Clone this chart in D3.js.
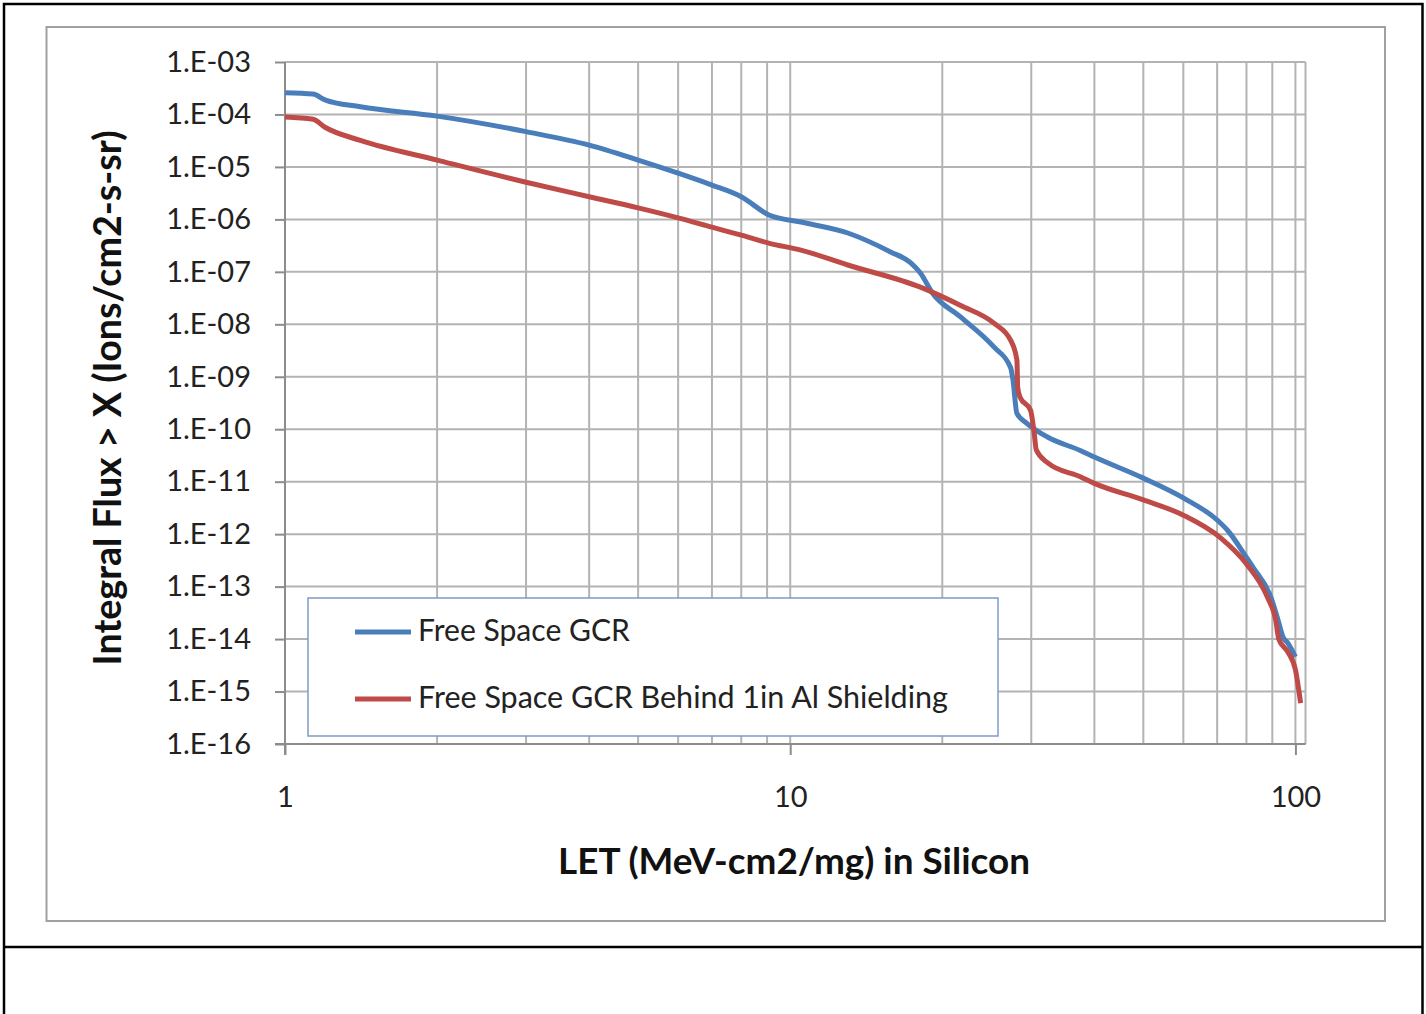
<!DOCTYPE html>
<html>
<head>
<meta charset="utf-8">
<script src="https://cdn.jsdelivr.net/npm/d3@7"></script>
<style>
  html, body { margin: 0; padding: 0; background: #fff; }
  svg { display: block; }
</style>
</head>
<body>
<svg id="chart" width="1426" height="1014"></svg>
<script>
// ---------------- DATA ----------------
const yTickValues = [1e-3, 1e-4, 1e-5, 1e-6, 1e-7, 1e-8, 1e-9, 1e-10, 1e-11, 1e-12, 1e-13, 1e-14, 1e-15, 1e-16];
const yTickLabels = ["1.E-03", "1.E-04", "1.E-05", "1.E-06", "1.E-07", "1.E-08", "1.E-09", "1.E-10", "1.E-11", "1.E-12", "1.E-13", "1.E-14", "1.E-15", "1.E-16"];
const xTickValues = [1, 10, 100];
const xTickLabels = ["1", "10", "100"];

const seriesNames = ["Free Space GCR", "Free Space GCR Behind 1in Al Shielding"];

const freeSpaceLET = [1.0, 1.136, 1.2, 1.41, 2.0, 3.0, 4.0, 5.0, 6.0, 7.0, 8.0, 9.1, 10.5, 13.0, 15.8, 17.3, 18.1, 19.1, 21.7, 25.3, 27.3, 27.6, 28.1, 29.4, 32.3, 37.6, 40, 50, 60, 70, 73.3, 80, 82.5, 89.4, 92.4, 94.5, 96.7, 100];
const freeSpaceFlux = [2.6e-4, 2.45e-4, 1.9e-4, 1.4e-4, 9.3e-5, 4.7e-5, 2.6e-5, 1.35e-5, 7.6e-6, 4.5e-6, 2.7e-6, 1.2e-6, 8.9e-7, 5.5e-7, 2.4e-7, 1.5e-7, 9.5e-8, 4.0e-8, 1.4e-8, 3.7e-9, 1.5e-9, 8.7e-10, 2.0e-10, 1.3e-10, 7.1e-11, 3.9e-11, 2.95e-11, 1.17e-11, 4.9e-12, 1.86e-12, 1.2e-12, 3.6e-13, 2.3e-13, 6.3e-14, 2.3e-14, 1.1e-14, 8.3e-15, 4.6e-15];

const shieldedLET = [1.0, 1.136, 1.2, 1.41, 2.0, 3.0, 4.0, 5.0, 6.0, 7.0, 8.0, 9.1, 10.5, 13.0, 18.1, 21.7, 25.3, 27.3, 28.1, 28.2, 28.5, 29.9, 30.4, 30.7, 32.3, 37.6, 40, 50, 60, 71.1, 80, 88.0, 91.4, 92.7, 96.7, 100, 102.4];
const shieldedFlux = [8.9e-5, 8.1e-5, 5.7e-5, 3.2e-5, 1.35e-5, 5.1e-6, 2.7e-6, 1.66e-6, 1.07e-6, 7.1e-7, 5.0e-7, 3.5e-7, 2.6e-7, 1.35e-7, 5.1e-8, 2.3e-8, 1.05e-8, 5.0e-9, 2.1e-9, 6.3e-10, 4.1e-10, 2.3e-10, 8.5e-11, 4.0e-11, 2.3e-11, 1.23e-11, 9.3e-12, 4.5e-12, 2.3e-12, 8.5e-13, 2.7e-13, 6.3e-14, 2.3e-14, 1.0e-14, 5.6e-15, 2.6e-15, 6e-16];

const xTitle = "LET (MeV-cm2/mg) in Silicon";
const yTitle = "Integral Flux > X (Ions/cm2-s-sr)";

// ---------------- DRAW ----------------
const svg = d3.select("#chart");
const FONT = "Lato, 'Open Sans', sans-serif";
const colors = ["#4a7ebb", "#be4b48"];

// outer black frame
svg.append("rect").attr("x", 4).attr("y", 4).attr("width", 1418.5).attr("height", 1020)
  .attr("fill", "none").attr("stroke", "#000").attr("stroke-width", 2.5);
svg.append("line").attr("x1", 4).attr("x2", 1423).attr("y1", 947).attr("y2", 947)
  .attr("stroke", "#000").attr("stroke-width", 2.5);

// chart area border
svg.append("rect").attr("x", 46.5).attr("y", 27).attr("width", 1338.5).attr("height", 894)
  .attr("fill", "#fff").attr("stroke", "#a0a0a0").attr("stroke-width", 2);

const plot = { left: 285, right: 1305.5, top: 62, bottom: 744 };

const x = d3.scaleLog().domain([1, 104.7]).range([plot.left, plot.right]);
const y = d3.scaleLog().domain([1e-16, 1e-3]).range([plot.bottom, plot.top]);

const g = svg.append("g");

// vertical gridlines (major + minor)
const xGrid = [];
for (let d = 1; d <= 100; d *= 10) {
  for (let k = 1; k <= 9; k++) {
    const v = d * k;
    if (v >= 1 && v <= 100) xGrid.push(v);
  }
}
g.selectAll(".vgrid").data(xGrid).join("line")
  .attr("x1", d => x(d)).attr("x2", d => x(d))
  .attr("y1", plot.top).attr("y2", plot.bottom)
  .attr("stroke", "#b3b3b3").attr("stroke-width", 2);
// right plot edge
g.append("line").attr("x1", plot.right).attr("x2", plot.right)
  .attr("y1", plot.top).attr("y2", plot.bottom)
  .attr("stroke", "#b3b3b3").attr("stroke-width", 2);

// horizontal gridlines
g.selectAll(".hgrid").data(yTickValues).join("line")
  .attr("x1", plot.left).attr("x2", plot.right)
  .attr("y1", d => y(d)).attr("y2", d => y(d))
  .attr("stroke", "#b3b3b3").attr("stroke-width", 2);

// axes
const yAxis = d3.axisLeft(y).tickValues(yTickValues)
  .tickFormat((d, i) => yTickLabels[i]).tickSize(10).tickPadding(24);
const yg = svg.append("g").attr("transform", `translate(${plot.left},0)`).call(yAxis);
yg.select(".domain").attr("stroke", "#8c8c8c").attr("stroke-width", 2).attr("d", `M0,${plot.top}V${plot.bottom + 11}`);
yg.selectAll(".tick line").attr("stroke", "#8c8c8c").attr("stroke-width", 2);
yg.selectAll(".tick text").attr("font-family", FONT).attr("font-size", 29).attr("fill", "#222");

const xAxis = d3.axisBottom(x).tickValues(xTickValues)
  .tickFormat((d, i) => xTickLabels[i]).tickSize(11).tickPadding(31);
const xg = svg.append("g").attr("transform", `translate(0,${plot.bottom})`).call(xAxis);
xg.select(".domain").attr("stroke", "#8c8c8c").attr("stroke-width", 2).attr("d", `M${plot.left - 10},0H${plot.right}`);
xg.selectAll(".tick line").attr("stroke", "#8c8c8c").attr("stroke-width", 2);
xg.selectAll(".tick text").attr("font-family", FONT).attr("font-size", 29).attr("fill", "#222");

// series
const line = d3.line().x(d => x(d[0])).y(d => y(d[1])).curve(d3.curveMonotoneX);
const series = [
  d3.zip(freeSpaceLET, freeSpaceFlux),
  d3.zip(shieldedLET, shieldedFlux)
];
svg.append("g").selectAll("path").data(series).join("path")
  .attr("d", line)
  .attr("fill", "none")
  .attr("stroke", (d, i) => colors[i])
  .attr("stroke-width", 5)
  .attr("stroke-linejoin", "round")
  .attr("stroke-linecap", "butt");

function fitWidth(sel, target) {
  const w = sel.node().getComputedTextLength();
  const fs = parseFloat(sel.attr("font-size"));
  sel.attr("font-size", fs * target / w);
}

// legend
const lg = svg.append("g");
lg.append("rect").attr("x", 308).attr("y", 598).attr("width", 690).attr("height", 138)
  .attr("fill", "#fff").attr("stroke", "#7f9cc8").attr("stroke-width", 1.5);
const legendY = [632, 699];
const legendW = [212, 530];
seriesNames.forEach((name, i) => {
  lg.append("line").attr("x1", 355).attr("x2", 411).attr("y1", legendY[i]).attr("y2", legendY[i])
    .attr("stroke", colors[i]).attr("stroke-width", 5);
  const t = lg.append("text").attr("x", 418).attr("y", legendY[i] + 9)
    .attr("font-family", FONT).attr("font-size", 27).attr("fill", "#222").text(name);
  fitWidth(t, legendW[i]);
});

// axis titles
const xt = svg.append("text").attr("x", 794).attr("y", 874).attr("text-anchor", "middle")
  .attr("font-family", FONT).attr("font-weight", "bold").attr("font-size", 32).attr("fill", "#111")
  .text(xTitle);
fitWidth(xt, 472);

const yt = svg.append("text").attr("transform", "translate(121,398) rotate(-90)")
  .attr("text-anchor", "middle")
  .attr("font-family", FONT).attr("font-weight", "bold").attr("font-size", 32).attr("fill", "#111")
  .text(yTitle);
fitWidth(yt, 535);
</script>
</body>
</html>
